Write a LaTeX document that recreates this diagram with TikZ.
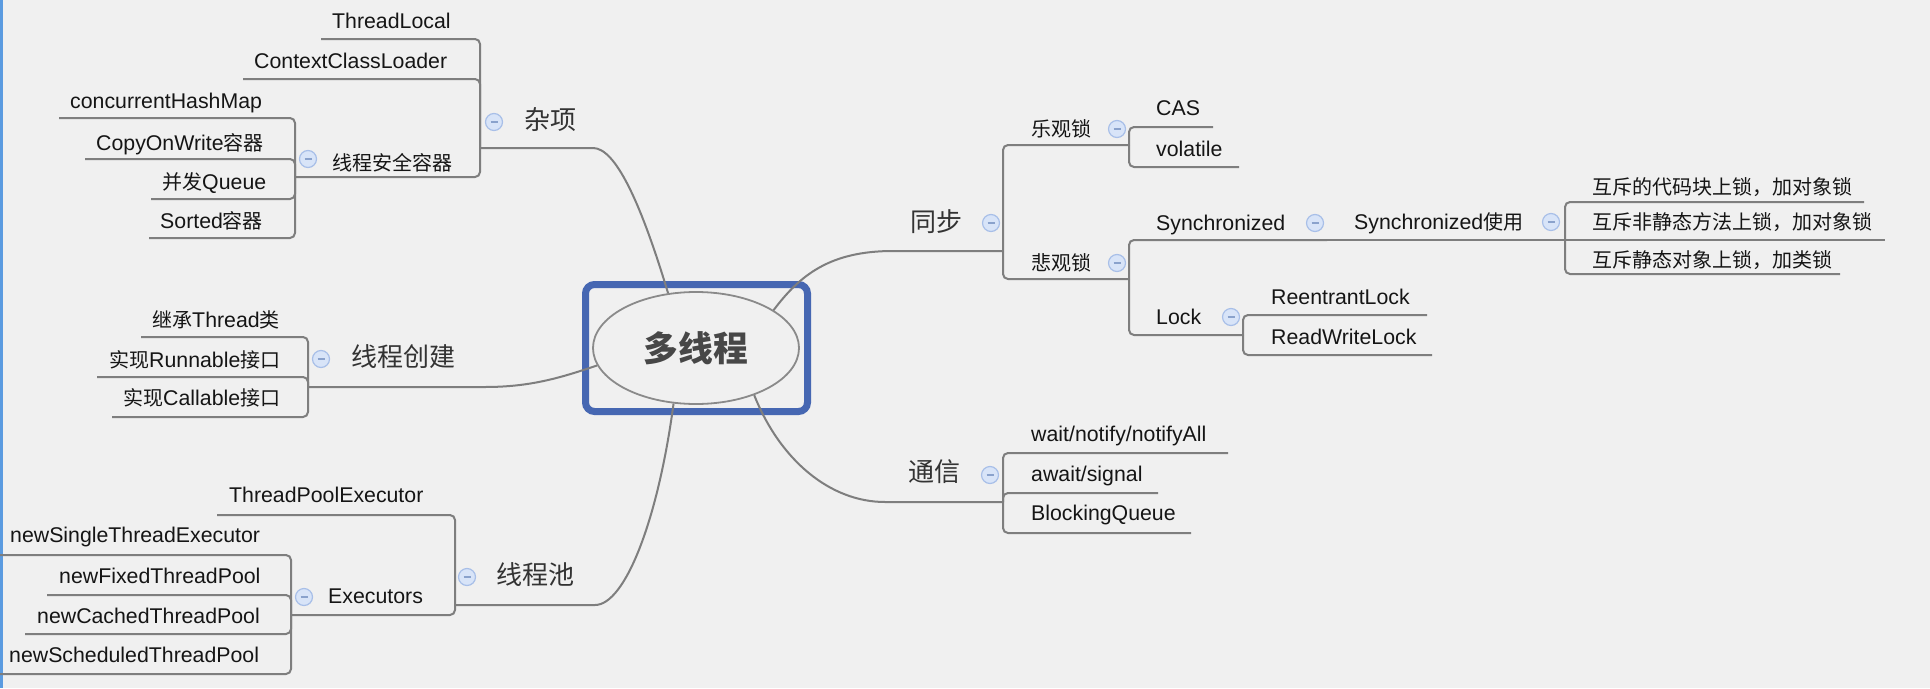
\documentclass[tikz,border=0pt]{standalone}
\usepackage{fontspec}
\setmainfont{Liberation Sans}
\newfontfamily\cjk[Scale=0.94]{Noto Sans CJK SC}
\usetikzlibrary{shapes.geometric}
\definecolor{bgcol}{HTML}{F0F0F0}
\definecolor{edgeblue}{HTML}{5B9BE0}
\definecolor{linecol}{HTML}{7E7E7E}
\definecolor{boxblue}{HTML}{4667B2}
\definecolor{ellcol}{HTML}{8A8A8A}
\definecolor{leafcol}{HTML}{151515}
\definecolor{topiccol}{HTML}{333333}
\definecolor{centercol}{HTML}{474747}
\definecolor{btnfill}{HTML}{D8E4F8}
\definecolor{btnborder}{HTML}{A8BFE8}
\definecolor{btnminus}{HTML}{8AA2CC}
\newcommand{\zhtxt}[1]{{\cjk #1}}
\tikzset{
  conn/.style={draw=linecol, line width=2pt, rounded corners=5pt},
  curveconn/.style={draw=linecol, line width=2pt},
  leaf/.style={anchor=base west, inner sep=0pt, font=\fontsize{21.3}{25}\selectfont, text=leafcol},
  topic/.style={anchor=base west, inner sep=0pt, font=\fontsize{27.7}{32}\selectfont\cjk, text=topiccol},
  minusbtn/.style={circle, minimum size=17pt, inner sep=0pt, fill=btnfill, draw=btnborder, line width=1.2pt,
    path picture={\draw[btnminus, line width=1.6pt] ([xshift=-3.5pt]path picture bounding box.center) -- ([xshift=3.5pt]path picture bounding box.center);}},
}
\begin{document}
\begin{tikzpicture}[x=1pt,y=-1pt]
\useasboundingbox (0,0) rectangle (1930,688);
\fill[bgcol] (0,0) rectangle (1930,688);
\fill[edgeblue] (0,0) rectangle (2.5,688);

% ---------- centre ----------
\node[draw=boxblue, line width=7pt, rounded corners=9pt, minimum width=222pt, minimum height=127pt, inner sep=0pt] (frame) at (696.5,348) {};
\node[ellipse, draw=ellcol, line width=1.8pt, minimum width=206pt, minimum height=112pt, inner sep=0pt,
      font=\fontsize{37}{40}\selectfont\cjk\bfseries, text=centercol] (center) at (696,348) {多线程};

% ---------- coordinates ----------
% 杂项
\coordinate (zx-a) at (593,148);
\coordinate (zx-j) at (480,148);
\coordinate (tl-e) at (321,39);
\coordinate (ccl-e) at (243,79);
\coordinate (aq-j) at (295,177);
\coordinate (chm-e) at (59,118);
\coordinate (cow-e) at (85,159);
\coordinate (bq-e) at (151,199);
\coordinate (sr-e) at (149,238);
% 线程创建
\coordinate (cj-a) at (485,387);
\coordinate (cj-j) at (308,387);
\coordinate (jc-e) at (141,337);
\coordinate (rn-e) at (97,377);
\coordinate (cl-e) at (112,417);
% 线程池
\coordinate (tp-a) at (595,605);
\coordinate (tp-j) at (455,605);
\coordinate (tpe-e) at (217,515);
\coordinate (ex-j) at (291,615);
\coordinate (nst-e) at (0,555);
\coordinate (nft-e) at (47,595);
\coordinate (nct-e) at (25,634);
\coordinate (nsc-e) at (0,674);
% 同步
\coordinate (tb-a) at (893,251);
\coordinate (tb-j) at (1003,251);
\coordinate (lg-j) at (1129,145);
\coordinate (cas-e) at (1213,127);
\coordinate (vol-e) at (1239,167);
\coordinate (bg-j) at (1129,279);
\coordinate (sy-j) at (1327,240);
\coordinate (su-j) at (1565,240);
\coordinate (u1-e) at (1864,202);
\coordinate (u2-e) at (1885,240);
\coordinate (u3-e) at (1840,274);
\coordinate (lk-j) at (1243,335);
\coordinate (rl-e) at (1427,315);
\coordinate (rw-e) at (1432,355);
% 通信
\coordinate (tx-a) at (885,502);
\coordinate (tx-j) at (1003,502);
\coordinate (wn-e) at (1228,453);
\coordinate (as-e) at (1158,493);
\coordinate (bk-e) at (1191,533);

% ---------- main curves ----------
\draw[curveconn] (center.117.8) .. controls (640,200) and (615,148) .. (zx-a) -- (zx-j);
\draw[curveconn] (center.190.5) .. controls (560,378) and (530,387) .. (cj-a) -- (cj-j);
\draw[curveconn] (center.248.7) .. controls (658,520) and (625,605) .. (tp-a) -- (tp-j);
\draw[curveconn] (center.26.3) .. controls (800,275) and (830,251) .. (tb-a) -- (tb-j);
\draw[curveconn] (center.321.7) .. controls (780,460) and (830,502) .. (tx-a) -- (tx-j);

% ---------- brackets / underlines ----------
\draw[conn] (zx-j) |- (tl-e);
\draw[conn] (zx-j) |- (ccl-e);
\draw[conn] (zx-j) |- (aq-j);
\draw[conn] (aq-j) |- (chm-e);
\draw[conn] (aq-j) |- (cow-e);
\draw[conn] (aq-j) |- (bq-e);
\draw[conn] (aq-j) |- (sr-e);

\draw[conn] (cj-j) |- (jc-e);
\draw[conn] (cj-j) |- (rn-e);
\draw[conn] (cj-j) |- (cl-e);

\draw[conn] (tp-j) |- (tpe-e);
\draw[conn] (tp-j) |- (ex-j);
\draw[conn] (ex-j) |- (nst-e);
\draw[conn] (ex-j) |- (nft-e);
\draw[conn] (ex-j) |- (nct-e);
\draw[conn] (ex-j) |- (nsc-e);

\draw[conn] (tb-j) |- (lg-j);
\draw[conn] (lg-j) |- (cas-e);
\draw[conn] (lg-j) |- (vol-e);
\draw[conn] (tb-j) |- (bg-j);
\draw[conn] (bg-j) |- (sy-j);
\draw[conn] (sy-j) -- (su-j);
\draw[conn] (su-j) |- (u1-e);
\draw[conn] (su-j) -- (u2-e);
\draw[conn] (su-j) |- (u3-e);
\draw[conn] (bg-j) |- (lk-j);
\draw[conn] (lk-j) |- (rl-e);
\draw[conn] (lk-j) |- (rw-e);

\draw[conn] (tx-j) |- (wn-e);
\draw[conn] (tx-j) |- (as-e);
\draw[conn] (tx-j) |- (bk-e);

% ---------- topic texts ----------
\node[topic] (zx) at (524,129) {杂项};
\node[topic] (cj) at (351,366) {线程创建};
\node[topic] (tp) at (496,584) {线程池};
\node[topic] (tb) at (910,231) {同步};
\node[topic] (tx) at (908,481) {通信};

% ---------- leaf texts ----------
\node[leaf] (tl) at (332,28.6) {ThreadLocal};
\node[leaf] (ccl) at (254,68.6) {ContextClassLoader};
\node[leaf] (aq) at (332,170.6) {\zhtxt{线程安全容器}};
\node[leaf] (chm) at (70,108.6) {concurrentHashMap};
\node[leaf] (cow) at (96,150.6) {CopyOnWrite\zhtxt{容器}};
\node[leaf] (bq) at (162,189.6) {\zhtxt{并发}Queue};
\node[leaf] (sr) at (160,228.6) {Sorted\zhtxt{容器}};

\node[leaf] (jc) at (152,327.6) {\zhtxt{继承}Thread\zhtxt{类}};
\node[leaf] (rn) at (109,367.6) {\zhtxt{实现}Runnable\zhtxt{接口}};
\node[leaf] (cl) at (123,405.6) {\zhtxt{实现}Callable\zhtxt{接口}};

\node[leaf] (tpe) at (229,502.6) {ThreadPoolExecutor};
\node[leaf] (ex) at (328,603.6) {Executors};
\node[leaf] (nst) at (10,542.6) {newSingleThreadExecutor};
\node[leaf] (nft) at (59,583.6) {newFixedThreadPool};
\node[leaf] (nct) at (37,623.6) {newCachedThreadPool};
\node[leaf] (nsc) at (9,662.6) {newScheduledThreadPool};

\node[leaf] (lg) at (1031,136.6) {\zhtxt{乐观锁}};
\node[leaf] (cas) at (1156,115.6) {CAS};
\node[leaf] (vol) at (1156,156.6) {volatile};
\node[leaf] (bg) at (1031,270.6) {\zhtxt{悲观锁}};
\node[leaf] (sy) at (1156,230.6) {Synchronized};
\node[leaf] (su) at (1354,229.6) {Synchronized\zhtxt{使用}};
\node[leaf] (u1) at (1592,194.6) {\zhtxt{互斥的代码块上锁，加对象锁}};
\node[leaf] (u2) at (1592,229.6) {\zhtxt{互斥非静态方法上锁，加对象锁}};
\node[leaf] (u3) at (1592,267.6) {\zhtxt{互斥静态对象上锁，加类锁}};
\node[leaf] (lk) at (1156,324.6) {Lock};
\node[leaf] (rl) at (1271,304.6) {ReentrantLock};
\node[leaf] (rw) at (1271,344.6) {ReadWriteLock};

\node[leaf] (wn) at (1031,441.6) {wait/notify/notifyAll};
\node[leaf] (as) at (1031,481.6) {await/signal};
\node[leaf] (bk) at (1031,520.6) {BlockingQueue};

% ---------- collapse buttons ----------
\node[minusbtn] (b-zx) at (494,122) {};
\node[minusbtn] (b-aq) at (308,159) {};
\node[minusbtn] (b-cj) at (321,359) {};
\node[minusbtn] (b-tp) at (467,577) {};
\node[minusbtn] (b-ex) at (304,597) {};
\node[minusbtn] (b-tb) at (991,223) {};
\node[minusbtn] (b-lg) at (1117,129) {};
\node[minusbtn] (b-bg) at (1117,263) {};
\node[minusbtn] (b-sy) at (1315,223) {};
\node[minusbtn] (b-su) at (1551,222) {};
\node[minusbtn] (b-lk) at (1231,317) {};
\node[minusbtn] (b-tx) at (990,475) {};
\end{tikzpicture}
\end{document}
